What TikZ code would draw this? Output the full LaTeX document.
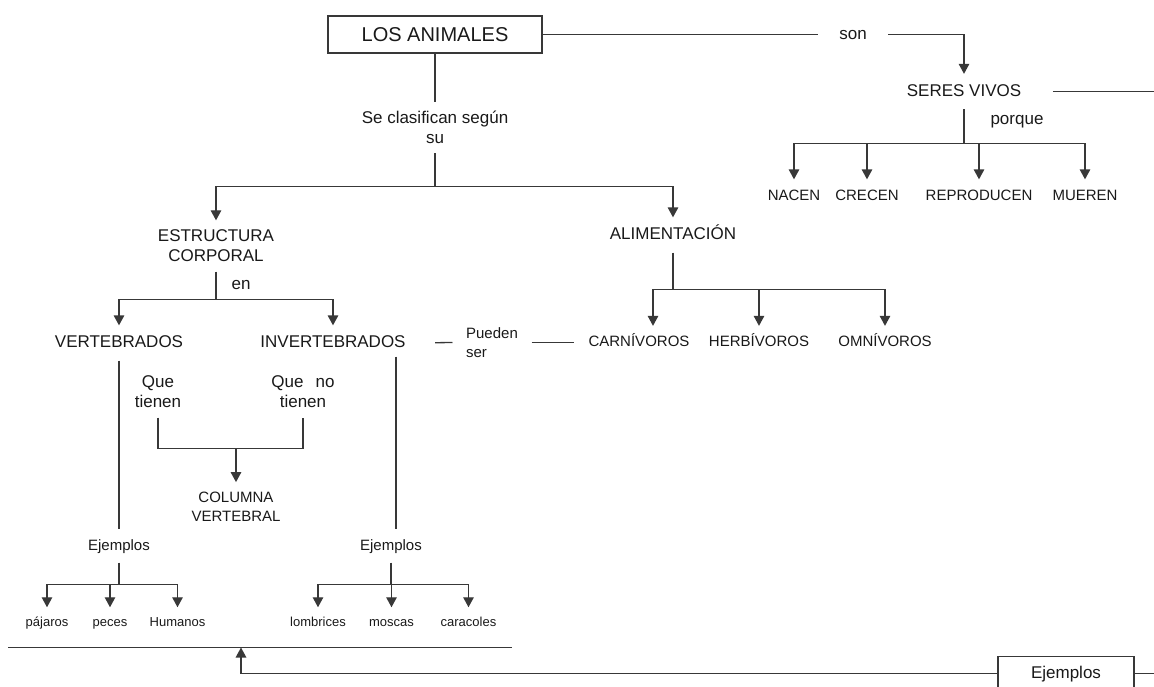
\documentclass[tikz,border=0pt]{standalone}
\usepackage{fontspec}
\setmainfont{Liberation Sans}
\usetikzlibrary{arrows.meta}
\tikzset{
  basetext/.style={inner xsep=4pt, inner ysep=9pt, text=black!90, align=center},
  bigtext/.style={basetext, font=\fontsize{17}{20}\selectfont, text height=12.5pt, text depth=3.5pt},
  bigtwo/.style={basetext, font=\fontsize{17}{20}\selectfont},
  midtext/.style={basetext, font=\fontsize{15}{19}\selectfont, text height=11pt, text depth=3pt},
  midtwo/.style={basetext, font=\fontsize{15}{19}\selectfont},
  smalltext/.style={basetext, font=\fontsize{13}{16}\selectfont, text height=9.5pt, text depth=2.7pt},
  titlebox/.style={draw, text=black!90, font=\fontsize{20}{24}\selectfont, text height=14.3pt, text depth=0pt,
    minimum width=214pt, minimum height=37pt, inner sep=0pt},
  ejbox/.style={draw, bigtext, minimum width=136pt, minimum height=34pt, inner sep=0pt},
  arr/.style={-{Triangle[width=10.5pt,length=10pt]}}
}
\begin{document}
\begin{tikzpicture}[x=1pt,y=-1pt,line width=1.3pt,color=black!78]
  \useasboundingbox (0,0) rectangle (1154,686);

  \node[titlebox] (animales) at (435,34.5) {LOS ANIMALES};
  \node[bigtext, inner xsep=21pt] (son) at (853,34.5) {son};
  \node[bigtext] (seres) at (964,91.5) {SERES VIVOS};
  \node[bigtext] (porque) at (1017,120) {porque};
  \node[midtext] (nacen) at (794,196) {NACEN};
  \node[midtext] (crecen) at (867,196) {CRECEN};
  \node[midtext] (reprod) at (979,196) {REPRODUCEN};
  \node[midtext] (mueren) at (1085,196) {MUEREN};
  \coordinate (edge) at (1154,0);

  \node[bigtwo] (clasif) at (435,127.5) {Se clasifican según\\su};
  \node[bigtwo] (estructura) at (216,246) {ESTRUCTURA\\CORPORAL};
  \node[bigtext] (alim) at (673,235) {ALIMENTACIÓN};
  \node[bigtext, anchor=west] (en) at (227,285) {en};

  \node[bigtext] (vert) at (119,343) {VERTEBRADOS};
  \node[bigtext] (invert) at (333,343) {INVERTEBRADOS};
  \node[midtwo, align=left, inner xsep=13pt] (pueden) at (492,342.5) {Pueden\\ser};
  \node[midtext] (carn) at (639,342.5) {CARNÍVOROS};
  \node[midtext] (herb) at (759,342.5) {HERBÍVOROS};
  \node[midtext] (omn) at (885,342.5) {OMNÍVOROS};

  \node[bigtwo] (qt) at (158,392) {Que\\tienen};
  \node[bigtwo] (qnt) at (303,392) {Que\hspace{12pt}no\\tienen};
  \node[midtwo] (columna) at (236,506.5) {COLUMNA\\VERTEBRAL};

  \node[midtext] (ejemV) at (119,546) {Ejemplos};
  \node[midtext] (ejemI) at (391,546) {Ejemplos};
  \node[smalltext] (pajaros) at (47,623) {pájaros};
  \node[smalltext] (peces) at (110,623) {peces};
  \node[smalltext] (humanos) at (177.5,623) {Humanos};
  \node[smalltext] (lombrices) at (318,623) {lombrices};
  \node[smalltext] (moscas) at (391.5,623) {moscas};
  \node[smalltext] (caracoles) at (468.5,623) {caracoles};

  \node[ejbox] (ejemplos) at (1066,673.5) {Ejemplos};
  \coordinate (baseL) at (8,647.5);
  \coordinate (baseM) at (241,647.5);
  \coordinate (baseR) at (512,647.5);

  \draw (animales.east) -- (son.west);
  \draw[arr] (son.east) -| (seres.north);
  \draw[shorten <=27pt] (seres.east) -- (seres.east -| edge);
  \coordinate (sbar) at (964,143.5);
  \draw (seres.south) -- (sbar);
  \foreach \n in {nacen,crecen,reprod,mueren}
    \draw[arr] (sbar) -| (\n.north);

  \draw (animales.south) -- (clasif.north);
  \coordinate (cbar) at (435,186.5);
  \draw (clasif.south) -- (cbar);
  \draw[arr] (cbar) -| (estructura.north);
  \draw[arr] (cbar) -| (alim.north);

  \coordinate (ebar) at (216,299.5);
  \draw (estructura.south) -- (ebar);
  \draw[arr] (ebar) -| (vert.north);
  \draw[arr] (ebar) -| (invert.north);

  \coordinate (abar) at (673,289.5);
  \draw (alim.south) -- (abar);
  \draw[arr] (abar) -| ([xshift=14pt]carn.north);
  \draw[arr] (abar) -| (herb.north);
  \draw[arr] (abar) -| (omn.north);

  \draw[shorten <=25pt] (invert.east) -- (pueden.west);
  \draw (pueden.east) -- ([xshift=-9.6pt]carn.west);

  \coordinate (qbar) at (236,448.5);
  \draw (qt.south) |- (qbar) -| (qnt.south);
  \draw[arr] (qbar) -- (columna.north);

  \draw (vert.south) -- (ejemV.north);
  \draw ([xshift=63pt,yshift=4pt]invert.south) -- ([xshift=5pt]ejemI.north);

  \coordinate (vbar) at (119,584.5);
  \draw (ejemV.south) -- (vbar);
  \foreach \n in {pajaros,peces,humanos}
    \draw[arr] (vbar) -| (\n.north);
  \coordinate (ibar) at (391,584.5);
  \draw (ejemI.south) -- (ibar);
  \foreach \n in {lombrices,moscas,caracoles}
    \draw[arr] (ibar) -| (\n.north);

  \draw (baseL) -- (baseR);
  \draw[arr] (ejemplos.west) -| (baseM);
  \draw (ejemplos.east) -- (ejemplos.east -| edge);
\end{tikzpicture}
\end{document}
